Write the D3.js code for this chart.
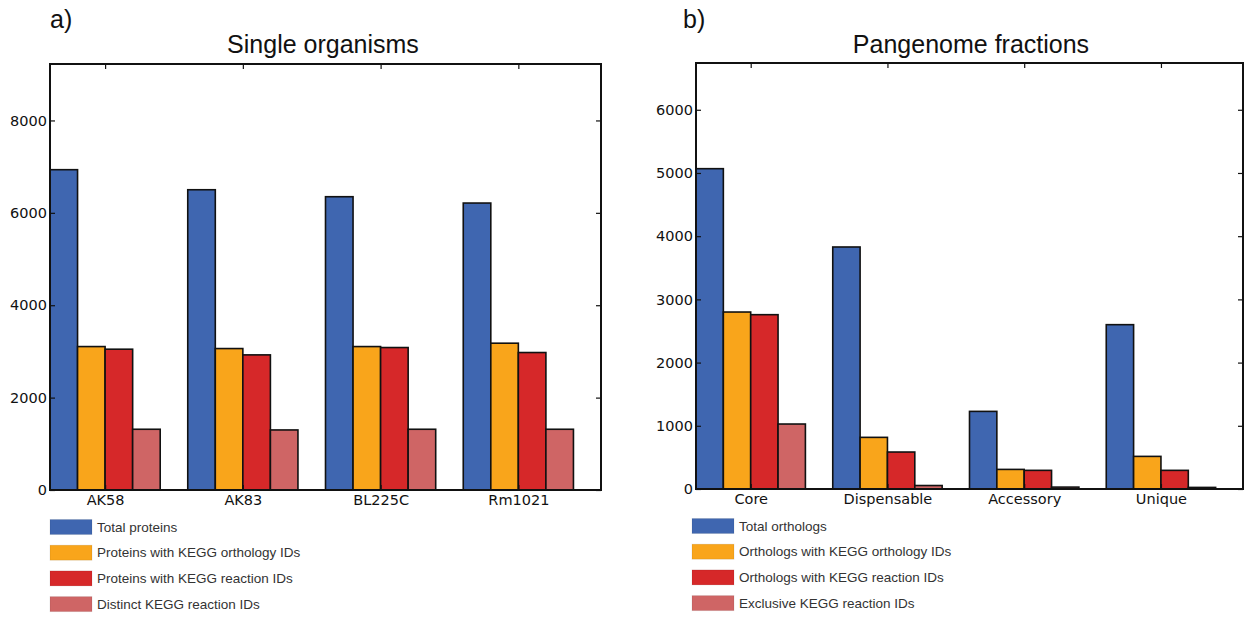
<!DOCTYPE html>
<html>
<head>
<meta charset="utf-8">
<script src="https://cdn.jsdelivr.net/npm/d3@7"></script>
<style>
  html, body { margin: 0; padding: 0; background: #fff; }
  svg { display: block; }
</style>
</head>
<body>
<svg id="chart" width="1244" height="617"></svg>
<script>
// ---- Data ----
const organisms = ["AK58", "AK83", "BL225C", "Rm1021"];
const totalProteins = [6934, 6500, 6349, 6212];
const proteinsKO = [3105, 3062, 3105, 3178];
const proteinsReaction = [3048, 2925, 3084, 2976];
const distinctReactions = [1315, 1300, 1315, 1315];
const leftSeriesNames = ["Total proteins", "Proteins with KEGG orthology IDs", "Proteins with KEGG reaction IDs", "Distinct KEGG reaction IDs"];
const leftTicks = [0, 2000, 4000, 6000, 8000];

const fractions = ["Core", "Dispensable", "Accessory", "Unique"];
const totalOrthologs = [5068, 3829, 1228, 2600];
const orthologsKO = [2800, 817, 310, 516];
const orthologsReaction = [2758, 585, 295, 295];
const exclusiveReactions = [1028, 55, 30, 25];
const rightSeriesNames = ["Total orthologs", "Orthologs with KEGG orthology IDs", "Orthologs with KEGG reaction IDs", "Exclusive KEGG reaction IDs"];
const rightTicks = [0, 1000, 2000, 3000, 4000, 5000, 6000];

const colors = ["#3f66b0", "#f9a51b", "#d62829", "#cf6565"];

const svg = d3.select("#chart");

function panel(opts) {
  const { left, right, top, bottom, ymax, cats, series, names, ticks, title, letter, letterX, titleX, legendX, legendTextX, legendY0 } = opts;
  const g = svg.append("g");
  const x = d3.scaleLinear().domain([0, cats.length]).range([left, right]);
  const y = d3.scaleLinear().domain([0, ymax]).range([bottom, top]);
  const bw = 0.2;

  // bars
  series.forEach((vals, si) => {
    g.selectAll(null).data(vals).enter().append("rect")
      .attr("x", (d, i) => x(i + si * bw))
      .attr("width", x(bw) - x(0))
      .attr("y", d => y(d))
      .attr("height", d => y(0) - y(d))
      .attr("fill", colors[si])
      .attr("stroke", "#111")
      .attr("stroke-width", 1.6);
  });

  // left axis (ticks inward)
  const yAxisL = d3.axisLeft(y).tickValues(ticks).tickSizeInner(-5).tickSizeOuter(0).tickPadding(3).tickFormat(d3.format("d"));
  const ga = g.append("g").attr("transform", `translate(${left},0)`).call(yAxisL);
  ga.select(".domain").remove();
  ga.selectAll("text").attr("font-family", "DejaVu Sans").attr("font-size", "14.5px").attr("fill", "#111");
  ga.selectAll("line").attr("stroke", "#111").attr("stroke-width", 1.2);

  // right axis ticks inward
  const yAxisR = d3.axisRight(y).tickValues(ticks).tickSizeInner(-5).tickSizeOuter(0).tickFormat("");
  const gr = g.append("g").attr("transform", `translate(${right},0)`).call(yAxisR);
  gr.select(".domain").remove();
  gr.selectAll("line").attr("stroke", "#111").attr("stroke-width", 1.2);

  // bottom axis
  const xAxisB = d3.axisBottom(x).tickValues(cats.map((c, i) => i + 0.4)).tickSizeInner(-5).tickSizeOuter(0).tickPadding(5)
    .tickFormat((d, i) => cats[i]);
  const gb = g.append("g").attr("transform", `translate(0,${bottom})`).call(xAxisB);
  gb.select(".domain").remove();
  gb.selectAll("text").attr("font-family", "DejaVu Sans").attr("font-size", "14.5px").attr("fill", "#111");
  gb.selectAll("line").attr("stroke", "#111").attr("stroke-width", 1.2);

  // top axis
  const xAxisT = d3.axisTop(x).tickValues(cats.map((c, i) => i + 0.4)).tickSizeInner(-5).tickSizeOuter(0).tickFormat("");
  const gt = g.append("g").attr("transform", `translate(0,${top})`).call(xAxisT);
  gt.select(".domain").remove();
  gt.selectAll("line").attr("stroke", "#111").attr("stroke-width", 1.2);

  // frame
  g.append("rect").attr("x", left).attr("y", top).attr("width", right - left).attr("height", bottom - top)
    .attr("fill", "none").attr("stroke", "#111").attr("stroke-width", 2);

  // title
  g.append("text").attr("x", titleX).attr("y", 53).attr("text-anchor", "middle")
    .attr("font-family", "Liberation Sans, Arial, sans-serif").attr("font-size", "25px").attr("fill", "#111").text(title);
  g.append("text").attr("x", letterX).attr("y", 28)
    .attr("font-family", "Liberation Sans, Arial, sans-serif").attr("font-size", "25px").attr("fill", "#111").text(letter);

  // legend
  names.forEach((n, i) => {
    const cy = legendY0 + i * 25.7;
    g.append("rect").attr("x", legendX).attr("y", cy - 7.5).attr("width", 42).attr("height", 15)
      .attr("fill", colors[i]).attr("stroke", "rgba(0,0,0,0.08)");
    g.append("text").attr("x", legendTextX).attr("y", cy + 4.5)
      .attr("font-family", "Liberation Sans, Arial, sans-serif").attr("font-size", "13.5px").attr("fill", "#333").text(n);
  });
}

panel({
  left: 50, right: 601, top: 64, bottom: 490, ymax: 9222,
  cats: organisms, series: [totalProteins, proteinsKO, proteinsReaction, distinctReactions],
  names: leftSeriesNames, ticks: leftTicks,
  title: "Single organisms", letter: "a)", letterX: 50, titleX: 323,
  legendX: 50, legendTextX: 97, legendY0: 527
});

panel({
  left: 696, right: 1243, top: 63, bottom: 489, ymax: 6740,
  cats: fractions, series: [totalOrthologs, orthologsKO, orthologsReaction, exclusiveReactions],
  names: rightSeriesNames, ticks: rightTicks,
  title: "Pangenome fractions", letter: "b)", letterX: 683, titleX: 971,
  legendX: 692, legendTextX: 739, legendY0: 526
});
</script>
</body>
</html>
